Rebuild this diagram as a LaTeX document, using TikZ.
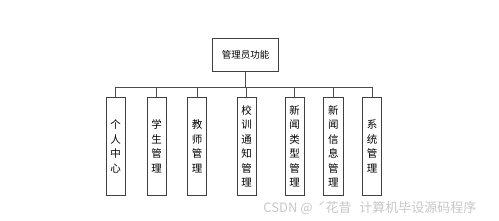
\documentclass[tikz,border=0pt]{standalone}
\usepackage{fontspec}
\newfontfamily\cjk{Noto Sans CJK SC}
\begin{document}
\begin{tikzpicture}[x=1pt,y=-1pt,
  line width=0.9pt,
  rootbox/.style={draw=black!75, minimum width=65.6pt, minimum height=32.7pt, inner sep=0pt, font=\cjk\fontsize{9.5}{11}\selectfont},
  leafbox/.style={draw=black!75, minimum width=19.3pt, minimum height=98pt, inner sep=0pt, align=center, font=\cjk\fontsize{10.5}{14.5}\selectfont},
  wire/.style={draw=black!70, line width=0.9pt}]
\useasboundingbox (0,0) rectangle (499,221);
\node[rootbox] (root) at (245.5,54.7) {管理员功能};
\node[leafbox] (a) at (115.7,146.3) {个\\人\\中\\心};
\node[leafbox] (b) at (156.7,146.3) {学\\生\\管\\理};
\node[leafbox] (c) at (197.2,146.3) {教\\师\\管\\理};
\node[leafbox] (d) at (246.7,146.3) {校\\训\\通\\知\\管\\理};
\node[leafbox] (e) at (294.7,146.3) {新\\闻\\类\\型\\管\\理};
\node[leafbox] (f) at (333.3,146.3) {新\\闻\\信\\息\\管\\理};
\node[leafbox] (g) at (372.0,146.3) {系\\统\\管\\理};
\coordinate (bus) at (0,87);
\draw[wire] (root.south) -- (root.south |- bus);
\draw[wire] (a.north |- bus) -- (g.north |- bus);
\foreach \n in {a,b,c,d,e,f,g}{\draw[wire] (\n.north |- bus) -- (\n.north);}
\node[anchor=west, text=black!22, font=\cjk\fontsize{13}{15}\selectfont, inner sep=0pt] (wm) at (263,208) {CSDN @\hspace{0.4em}ˊ花昔\hspace{0.6em}计算机毕设源码程序};
\end{tikzpicture}
\end{document}
